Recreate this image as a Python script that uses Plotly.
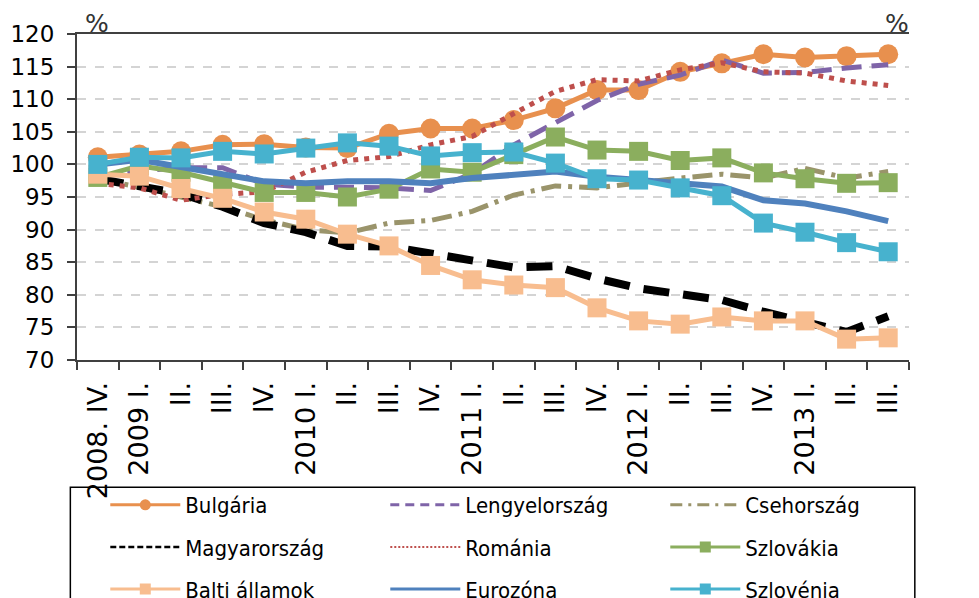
import plotly.graph_objects as go

quarters = ["2008. IV.", "2009 I.", "II.", "III.", "IV.", "2010 I.", "II.", "III.", "IV.",
            "2011 I.", "II.", "III.", "IV.", "2012 I.", "II.", "III.", "IV.", "2013 I.", "II.", "III."]

bulgaria = [101.1, 101.5, 102.0, 103.0, 103.1, 102.6, 102.5, 104.7, 105.5, 105.5,
            106.8, 108.6, 111.4, 111.4, 114.2, 115.5, 116.9, 116.4, 116.6, 116.9]
lengyel = [98.0, 99.0, 99.5, 99.5, 97.0, 96.5, 96.5, 96.4, 96.0, 98.6,
           103.0, 106.5, 109.8, 112.3, 113.7, 116.0, 114.0, 114.1, 114.8, 115.3]
cseh = [97.8, 96.5, 95.0, 93.5, 91.5, 90.0, 89.5, 91.0, 91.4, 92.8,
        95.3, 96.7, 96.4, 97.2, 97.9, 98.5, 97.9, 99.4, 97.9, 98.9]
magyar = [97.8, 96.8, 95.5, 93.5, 91.0, 89.6, 87.5, 87.4, 86.3, 85.0,
          84.2, 84.4, 82.5, 81.0, 80.0, 79.2, 77.4, 75.9, 74.3, 76.7]
romania = [97.1, 96.4, 94.5, 95.4, 95.8, 98.8, 100.6, 101.2, 103.0, 104.3,
           107.8, 111.2, 113.0, 112.8, 114.5, 115.6, 114.2, 114.0, 112.8, 112.1]
szlovakia = [98.0, 99.8, 98.8, 97.2, 95.7, 95.7, 95.0, 96.2, 99.3, 98.8,
             101.5, 104.2, 102.2, 102.0, 100.6, 101.0, 98.7, 97.8, 97.1, 97.2]
balti = [98.5, 98.2, 96.3, 94.8, 92.7, 91.6, 89.3, 87.5, 84.5, 82.3,
         81.5, 81.1, 78.0, 76.0, 75.5, 76.6, 76.0, 76.0, 73.2, 73.4]
eurozona = [100.0, 100.7, 99.6, 98.4, 97.4, 97.1, 97.4, 97.4, 97.1, 97.9,
            98.5, 98.9, 98.1, 97.6, 97.1, 96.6, 94.5, 94.0, 92.8, 91.3]
szlovenia = [100.0, 101.1, 101.0, 102.0, 101.6, 102.5, 103.3, 102.8, 101.3, 101.8,
             101.9, 100.2, 97.8, 97.6, 96.4, 95.2, 91.0, 89.6, 88.0, 86.6]

y_ticks = [70, 75, 80, 85, 90, 95, 100, 105, 110, 115, 120]

x = list(range(len(quarters)))

FONT = "DejaVu Sans"
LEG_FONT = "DejaVu Sans Condensed, Liberation Sans Narrow, DejaVu Sans"

series = [
    # name, values, color, width, dash, marker, legend row, legend width, legend dash, column
    ("Bulgária", bulgaria, "#E8904E", 5, "solid", "circle", "legend", 3, "solid", 0),
    ("Lengyelország", lengyel, "#7F64A8", 5, "20px,10px", None, "legend", 3, "9px,6px", 1),
    ("Csehország", cseh, "#9A946B", 5, "20px,7px,4px,7px", None, "legend", 3, "12px,6px,3px,6px", 2),
    ("Magyarország", magyar, "#000000", 8, "26px,14px", None, "legend2", 2.5, "6px,3px", 0),
    ("Románia", romania, "#BE4F4C", 5, "5px,6px", None, "legend2", 2, "2px,2px", 1),
    ("Szlovákia", szlovakia, "#8BAE5E", 5, "solid", "square", "legend2", 3, "solid", 2),
    ("Balti államok", balti, "#F8BD8F", 5, "solid", "square", "legend3", 3, "solid", 0),
    ("Eurozóna", eurozona, "#4F81BD", 6, "solid", None, "legend3", 3, "solid", 1),
    ("Szlovénia", szlovenia, "#47B2CE", 5, "solid", "square", "legend3", 3, "solid", 2),
]

fig = go.Figure()
for name, vals, color, width, dash, marker, leg, lw, ldash, col in series:
    mode = "lines+markers" if marker else "lines"
    fig.add_trace(go.Scatter(
        x=x, y=vals, name=name, mode=mode, showlegend=False,
        line=dict(color=color, width=width, dash=dash),
        marker=dict(symbol=marker or "circle", size=20 if marker == "circle" else 19, color=color),
    ))
    # legend-only entry with the thinner sample line used in the original legend
    fig.add_trace(go.Scatter(
        x=[None], y=[None], name=name, mode=mode, legend=leg,
        legendwidth=195 if col < 2 else 150,
        line=dict(color=color, width=lw, dash=ldash),
        marker=dict(symbol=marker or "circle", size=11, color=color),
    ))

axis_color = "#404040"
leg_common = dict(
    orientation="h", xanchor="left", yanchor="middle", x=0.034,
    font=dict(family=LEG_FONT, size=22, color="#000000"),
    itemwidth=70, entrywidthmode="pixels",
    bgcolor="rgba(0,0,0,0)", borderwidth=0,
)

# the page body adds an 8px offset, so the figure is 8px smaller and margins shifted
fig.update_layout(
    width=971, height=590,
    margin=dict(l=68.5, r=70, t=26, b=238, autoexpand=False),
    paper_bgcolor="white", plot_bgcolor="white",
    font=dict(family=FONT, size=23, color="#1a1a1a"),
    legend=dict(leg_common, y=-0.445),
    legend2=dict(leg_common, y=-0.574),
    legend3=dict(leg_common, y=-0.703),
    xaxis=dict(
        range=[-0.5, len(quarters) - 0.5],
        tickmode="array", tickvals=x, ticktext=quarters,
        tickangle=-90, ticks="", showgrid=False, zeroline=False,
        showline=True, linecolor=axis_color, linewidth=2, mirror=True,
        ticklabelstandoff=9,
        tickfont=dict(family=FONT, size=27, color="#000000"),
        minor=dict(tickmode="array", tickvals=[i - 0.5 for i in range(len(quarters) + 1)],
                   ticks="outside", ticklen=8, tickcolor=axis_color, tickwidth=1.5),
    ),
    yaxis=dict(
        range=[70, 120], tickmode="array", tickvals=y_ticks,
        ticks="outside", ticklen=8, tickcolor=axis_color, tickwidth=1.5,
        showline=True, linecolor=axis_color, linewidth=2,
        showgrid=True, gridcolor="#D4D4D4", griddash="dash", gridwidth=1.5,
        zeroline=False, ticklabelstandoff=8,
        tickfont=dict(size=23, color="#000000"),
    ),
    yaxis2=dict(
        range=[70, 120], tickmode="array", tickvals=y_ticks,
        overlaying="y", side="right",
        ticks="outside", ticklen=8, tickcolor=axis_color, tickwidth=1.5,
        showline=True, linecolor=axis_color, linewidth=2,
        showgrid=False, zeroline=False, ticklabelstandoff=12,
        tickfont=dict(size=23, color="#000000"),
    ),
    shapes=[dict(type="rect", xref="paper", yref="paper",
                 x0=-0.008, x1=1.007, y0=-1.0, y1=-0.39,
                 line=dict(color="#000000", width=1.5))],
    annotations=[
        dict(text="%", xref="paper", yref="paper", x=0.0246, y=1.0, xanchor="center",
             yanchor="bottom", showarrow=False, font=dict(size=25, color="#333333"), yshift=-6),
        dict(text="%", xref="paper", yref="paper", x=0.986, y=1.0, xanchor="center",
             yanchor="bottom", showarrow=False, font=dict(size=25, color="#333333"), yshift=-6),
    ],
)

fig.write_html("out.html")
